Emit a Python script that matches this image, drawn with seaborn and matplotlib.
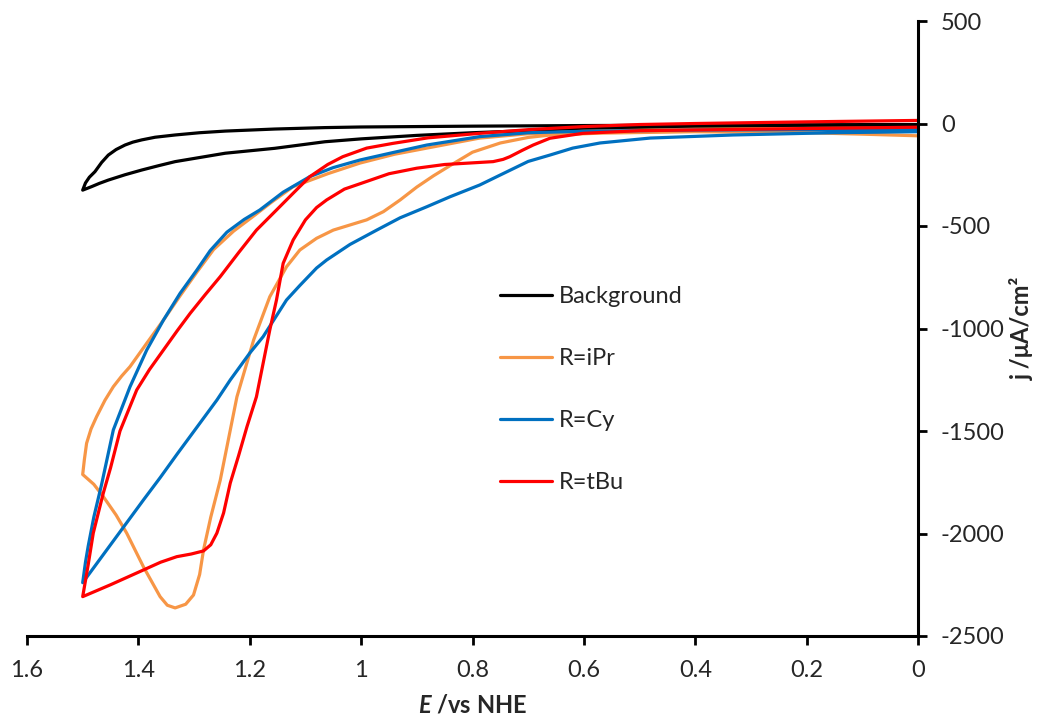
import numpy as np
import pandas as pd
import matplotlib
matplotlib.use("Agg")
import matplotlib.pyplot as plt
import seaborn as sns
from matplotlib.ticker import FixedLocator, FuncFormatter

# ---- data (closed CV loops: forward branch 0 -> 1.5 V, then reverse 1.5 -> 0 V) ----
bg_E = [0.0, 0.2, 0.4, 0.5, 0.6, 0.7, 0.8, 0.9, 1.0, 1.065, 1.155, 1.244, 1.334, 1.364, 1.394, 1.424, 1.454,
        1.47, 1.484, 1.5,
        1.495, 1.488, 1.478, 1.466, 1.454, 1.44, 1.424, 1.41, 1.394, 1.37, 1.334, 1.29, 1.244, 1.155, 1.065,
        1.0, 0.8, 0.6, 0.4, 0.2, 0.0]
bg_j = [-8, -12, -17, -21, -27, -35, -45, -58, -75, -89, -121, -145, -186, -206, -227, -250, -276,
        -292, -308, -325,
        -290, -262, -235, -190, -154, -127, -105, -91, -80, -67, -56, -45, -37, -27, -20,
        -17, -13, -10, -8, -6, -5]

ipr_E = [0.0, 0.1, 0.2, 0.4, 0.57, 0.66, 0.7, 0.75, 0.8, 0.84, 0.87, 0.9, 0.93, 0.96, 0.99, 1.02, 1.05,
         1.08, 1.11, 1.134, 1.164, 1.193, 1.223, 1.253, 1.27, 1.283, 1.29, 1.301, 1.315, 1.334, 1.348, 1.361,
         1.391, 1.421, 1.44, 1.463, 1.48, 1.5,
         1.497, 1.493, 1.485, 1.475, 1.46, 1.445, 1.43, 1.415, 1.385, 1.355, 1.325, 1.295, 1.265, 1.229,
         1.19, 1.16, 1.122, 1.06, 1.002, 0.94, 0.882, 0.787, 0.7, 0.6, 0.4, 0.2, 0.0]
ipr_j = [-60, -52, -45, -40, -47, -56, -68, -95, -140, -205, -255, -310, -373, -430, -470, -495, -520,
         -560, -617, -699, -845, -1056, -1333, -1740, -1920, -2080, -2200, -2300, -2345, -2363, -2350, -2308,
         -2162, -1998, -1910, -1820, -1760, -1712,
         -1640, -1560, -1490, -1430, -1350, -1284, -1232, -1186, -1072, -959, -840, -725, -615, -525,
         -445, -382, -308, -245, -193, -150, -120, -71, -50, -38, -28, -24, -22]

cy_E = [0.0, 0.153, 0.332, 0.481, 0.571, 0.62, 0.661, 0.7, 0.75, 0.787, 0.84, 0.882, 0.93, 0.972, 1.02,
        1.062, 1.08, 1.11, 1.134, 1.176, 1.2, 1.235, 1.259, 1.295, 1.33, 1.361, 1.39, 1.42, 1.46, 1.5,
        1.495, 1.49, 1.48, 1.466, 1.445, 1.415, 1.385, 1.355, 1.325, 1.295, 1.271, 1.241, 1.21, 1.182, 1.14,
        1.092, 1.05, 1.002, 0.94, 0.882, 0.787, 0.7, 0.6, 0.4, 0.2, 0.0]
cy_j = [-40, -45, -56, -71, -95, -120, -154, -185, -251, -300, -357, -406, -460, -520, -590,
        -666, -705, -790, -861, -1040, -1120, -1251, -1349, -1482, -1611, -1728, -1833, -1944, -2092, -2240,
        -2140, -2060, -1920, -1760, -1495, -1284, -1105, -959, -828, -715, -620, -530, -468, -422, -335,
        -259, -215, -178, -140, -105, -64, -45, -38, -32, -30, -30]

tbu_E = [0.0, 0.3, 0.5, 0.602, 0.661, 0.691, 0.71, 0.733, 0.745, 0.763, 0.8, 0.85, 0.9, 0.95, 1.0, 1.03,
         1.062, 1.08, 1.1, 1.122, 1.14, 1.152, 1.164, 1.188, 1.205, 1.22, 1.235, 1.247, 1.259, 1.27, 1.283,
         1.305, 1.331, 1.36, 1.391, 1.45, 1.5,
         1.495, 1.49, 1.481, 1.463, 1.45, 1.433, 1.403, 1.38, 1.355, 1.33, 1.307, 1.28, 1.253, 1.22, 1.188,
         1.152, 1.122, 1.092, 1.06, 1.033, 0.99, 0.943, 0.88, 0.787, 0.7, 0.6, 0.5, 0.4, 0.2, 0.0]
tbu_j = [-18, -28, -35, -48, -72, -105, -130, -162, -175, -186, -192, -200, -218, -245, -292, -320,
         -373, -410, -470, -568, -682, -861, -1007, -1333, -1479, -1620, -1754, -1900, -1998, -2055, -2085,
         -2100, -2113, -2140, -2178, -2250, -2308,
         -2230, -2150, -1998, -1803, -1680, -1500, -1300, -1200, -1105, -1010, -926, -835, -747, -630, -520,
         -422, -340, -259, -200, -162, -120, -97, -70, -48, -30, -15, -5, 0, 8, 15]

series_names = ["Background", "R=iPr", "R=Cy", "R=tBu"]
series_colors = ["#000000", "#F79646", "#0070C0", "#FF0000"]
x_ticks = [1.6, 1.4, 1.2, 1.0, 0.8, 0.6, 0.4, 0.2, 0.0]
y_ticks = [-2500, -2000, -1500, -1000, -500, 0, 500]

frames = []
for name, E, j in zip(series_names, [bg_E, ipr_E, cy_E, tbu_E], [bg_j, ipr_j, cy_j, tbu_j]):
    frames.append(pd.DataFrame({"E": E, "j": j, "series": name}))
df = pd.concat(frames, ignore_index=True)

# ---- style ----
sns.set_style("white")
plt.rcParams["font.family"] = ["Lato", "DejaVu Sans"]
plt.rcParams["axes.unicode_minus"] = False
plt.rcParams["mathtext.fontset"] = "custom"
plt.rcParams["mathtext.it"] = "Lato:italic:bold"
plt.rcParams["mathtext.rm"] = "Lato:bold"

FS = 17

fig = plt.figure(figsize=(10.38, 7.24), dpi=100)
ax = fig.add_axes([27 / 1038, 1 - 636 / 724, (918 - 27) / 1038, (636 - 21) / 724])

sns.lineplot(data=df, x="E", y="j", hue="series", hue_order=series_names,
             palette=dict(zip(series_names, series_colors)), sort=False, estimator=None,
             linewidth=2.3, ax=ax)

ax.set_xlim(1.6, 0)
ax.set_ylim(-2500, 500)
ax.xaxis.set_major_locator(FixedLocator(x_ticks))
ax.yaxis.set_major_locator(FixedLocator(y_ticks))
ax.xaxis.set_major_formatter(FuncFormatter(lambda v, p: f"{v:g}"))
ax.yaxis.set_major_formatter(FuncFormatter(lambda v, p: f"{v:g}"))

for s in ["left", "top"]:
    ax.spines[s].set_visible(False)
for s in ["right", "bottom"]:
    ax.spines[s].set_visible(True)
    ax.spines[s].set_linewidth(2.2)
    ax.spines[s].set_color("black")

ax.yaxis.tick_right()
ax.yaxis.set_label_position("right")
ax.tick_params(axis="both", which="major", direction="out", length=6.5, width=2, color="black",
               labelsize=FS, labelcolor="#262626")
ax.tick_params(axis="x", pad=11, bottom=True)
ax.tick_params(axis="y", pad=10, right=True, left=False)

ax.set_xlabel(r"$E$ /vs NHE", fontsize=FS, fontweight="bold", labelpad=9)
ax.set_ylabel("j /μA/cm²", fontsize=FS, fontweight="bold", labelpad=4, rotation=90)

handles, labels = ax.get_legend_handles_labels()
ax.legend(handles, labels, loc="upper left", bbox_to_anchor=(500 / 1038, 1 - 286 / 724),
          bbox_transform=fig.transFigure, frameon=False, fontsize=FS, handlelength=2.2,
          handletextpad=0.3, labelspacing=1.74, borderpad=0, borderaxespad=0)

fig.savefig("out.png", dpi=100)
